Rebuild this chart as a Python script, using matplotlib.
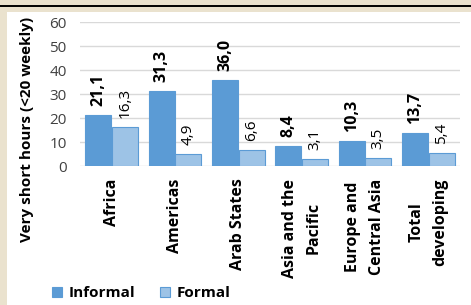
import matplotlib.pyplot as plt
import numpy as np
from matplotlib.patches import Rectangle
from matplotlib.lines import Line2D

# data
regions = ['Africa', 'Americas', 'Arab States', 'Asia and the\nPacific',
           'Europe and\nCentral Asia', 'Total\ndeveloping']
informal = [21.1, 31.3, 36.0, 8.4, 10.3, 13.7]
formal = [16.3, 4.9, 6.6, 3.1, 3.5, 5.4]
yticks = [0, 10, 20, 30, 40, 50, 60]

informal_color = '#5B9BD5'
formal_color = '#9DC3E6'
beige = '#EAE2CE'

plt.rcParams['font.family'] = ['Open Sans', 'DejaVu Sans']

fig = plt.figure(figsize=(4.71, 3.05), dpi=100, facecolor=beige)
# white panel and top rule
fig.add_artist(Rectangle((7 / 471, 0), 1, 1 - 12 / 305, transform=fig.transFigure,
                         facecolor='white', edgecolor='none', zorder=0))
fig.add_artist(Line2D([0, 1], [1 - 6 / 305, 1 - 6 / 305], transform=fig.transFigure,
                      color='black', linewidth=1.4))

ax = fig.add_axes([80 / 471, 139 / 305, 380 / 471, 144 / 305])
ax.set_facecolor('none')

x = np.arange(len(regions))
w = 0.41
b1 = ax.bar(x - w / 2 - 0.005, informal, w, color=informal_color,
            edgecolor=informal_color, linewidth=0.8, label='Informal', zorder=3)
b2 = ax.bar(x + w / 2 + 0.005, formal, w, color=formal_color,
            edgecolor=informal_color, linewidth=0.8, label='Formal', zorder=3)

ax.bar_label(b1, labels=[f'{v:.1f}'.replace('.', ',') for v in informal],
             rotation=90, padding=6.5, fontsize=11.5, fontweight='bold')
ax.bar_label(b2, labels=[f'{v:.1f}'.replace('.', ',') for v in formal],
             rotation=90, padding=6.5, fontsize=11)

ax.set_xlim(-0.5, len(regions) - 0.5)
ax.set_ylim(0, 60)
ax.set_yticks(yticks)
ax.set_yticklabels([str(t) for t in yticks], fontsize=11, color='#404040')
ax.set_xticks(x)
ax.set_xticklabels(regions, rotation=90, fontsize=11.5, fontweight='bold',
                   va='top', ha='center', multialignment='center',
                   linespacing=1.65)
ax.tick_params(axis='y', length=0, pad=9.5)
ax.tick_params(axis='x', length=0, pad=9)
ax.grid(axis='y', color='#D9D9D9', linewidth=1, zorder=0)
for s in ax.spines.values():
    s.set_visible(False)

ax.set_ylabel('Very short hours (<20 weekly)', fontsize=11, fontweight='bold')
ax.yaxis.set_label_coords(-0.12, 0.257)

fig.legend(handles=[b1, b2], loc='center left', bbox_to_anchor=(52 / 471, 12 / 305),
           ncol=2, frameon=False, prop={'size': 11, 'weight': 'bold'},
           borderpad=0, borderaxespad=0,
           handlelength=0.65, handleheight=0.65, handletextpad=0.45,
           columnspacing=1.6)

plt.savefig('out.png', dpi=100, facecolor=beige)
